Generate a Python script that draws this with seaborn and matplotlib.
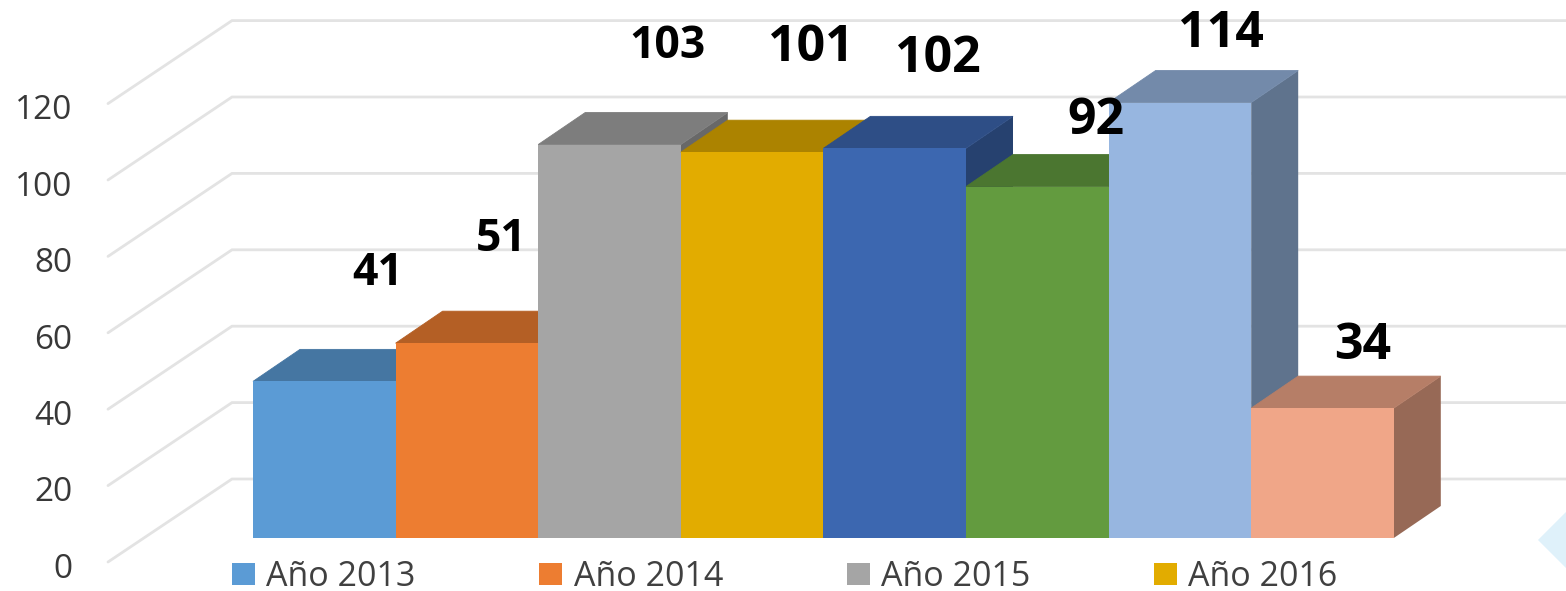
# -*- coding: utf-8 -*-
"""3D looking bar chart, Año 2013 - 2016"""
import matplotlib
matplotlib.use('Agg')
import numpy as np
import pandas as pd
import matplotlib.pyplot as plt
import matplotlib.colors as mcolors
from matplotlib.patches import Patch, Polygon
import seaborn as sns

sns.set_style('white')
plt.rcParams['font.family'] = ['Open Sans', 'DejaVu Sans']

# %% Data
bar_names = ['Año 2013', 'Año 2014', 'Año 2015', 'Año 2016', 'A', 'B', 'C', 'D']
bar_values = [41, 51, 103, 101, 102, 92, 114, 34]
bar_colors = ['#5B9BD5', '#ED7D31', '#A5A5A5', '#E2AC00',
              '#3C67B0', '#639B3F', '#97B6E0', '#F0A688']
legend_names = bar_names[:4]
tick_values = [0, 20, 40, 60, 80, 100, 120]

# label placement relative to the top of each bar: (bars, value units), size
label_dx = [0.377, 0.239, 0.41, 0.41, 0.304, 0.412, 0.288, 0.284]
label_dy = [28.2, 27.2, 25.7, 27.2, 23.4, 17.2, 18, 16.2]
label_size = [32, 32, 32, 36, 36, 36, 36, 36]

# %% Scales (1 bar = 142.6 px, 1 value unit = 3.82 px)
fig_w, fig_h = 1566, 591
bar_px, unit_px = 142.6, 3.82
x0_px, y0_px = 253, 538
depth_x, depth_y = 47 / bar_px, 32 / unit_px
wall_x, wall_y = (232 - x0_px) / bar_px - 0.5, (y0_px - 479) / unit_px
edge_x, edge_y = (108 - x0_px) / bar_px - 0.5, (y0_px - 562) / unit_px

fig = plt.figure(figsize=(fig_w / 100, fig_h / 100), dpi=100)
ax = fig.add_axes([0, 0, 1, 1])

df = pd.DataFrame({'name': bar_names, 'value': bar_values})
sns.barplot(data=df, x='name', y='value', hue='name', order=bar_names,
            hue_order=bar_names, palette=bar_colors, width=1, dodge=False,
            saturation=1, legend=False, linewidth=0, ax=ax)
ax.set_xlim(-x0_px / bar_px - 0.5, (fig_w - x0_px) / bar_px - 0.5)
ax.set_ylim(-(fig_h - y0_px) / unit_px, y0_px / unit_px)
ax.axis('off')

# %% Back wall, side wall and tick labels
for v in tick_values:
    ax.plot([edge_x, wall_x, ax.get_xlim()[1]],
            [v + edge_y, v + wall_y, v + wall_y],
            color='#E3E3E3', lw=2.0, zorder=1, solid_joinstyle='miter')
    ax.text(edge_x - 0.25, v + edge_y - 1.9, str(v), ha='right', va='center',
            fontsize=24, color='#383838')


def shade(color, factor):
    return np.array(mcolors.to_rgb(color)) * factor


# %% Fronts from seaborn, tops and sides added behind them
for i, (cont, v, c) in enumerate(zip(ax.containers, bar_values, bar_colors)):
    base = 10 + 3 * i
    for bar in cont:
        bar.set_zorder(base + 2)
    l, r = i - 0.5, i + 0.5
    ax.add_patch(Polygon([(r, 0), (r + depth_x, depth_y),
                          (r + depth_x, v + depth_y), (r, v)],
                         fc=shade(c, 0.63), ec='none', zorder=base))
    # thin edge in the same colour closes the seam against the front face
    ax.add_patch(Polygon([(l, v), (l + depth_x, v + depth_y),
                          (r + depth_x, v + depth_y), (r, v)],
                         fc=shade(c, 0.76), ec=shade(c, 0.76), lw=0.6,
                         zorder=base + 1))
    ax.text(i + label_dx[i], v + label_dy[i], str(v), ha='center', va='center',
            fontsize=label_size[i], fontweight='bold', color='black', zorder=100)

# stray light blue shape in the lower right corner
fig.add_artist(Polygon([(1538 / fig_w, 1 - 540 / fig_h),
                        (1566 / fig_w, 1 - 512 / fig_h),
                        (1566 / fig_w, 1 - 568 / fig_h)],
                       fc='#DFF1FA', ec='none', transform=fig.transFigure))

# %% Legend
handles = [Patch(fc=c, ec='none') for c in bar_colors[:4]]
fig.legend(handles, legend_names, ncol=4, frameon=False, fontsize=24.5,
           labelcolor='#404040', loc='lower left',
           bbox_to_anchor=(232 / fig_w, -3 / fig_h), borderaxespad=0, borderpad=0,
           handlelength=0.68, handleheight=0.65, handletextpad=0.33,
           columnspacing=3.63)

fig.savefig('out.png', dpi=100)
